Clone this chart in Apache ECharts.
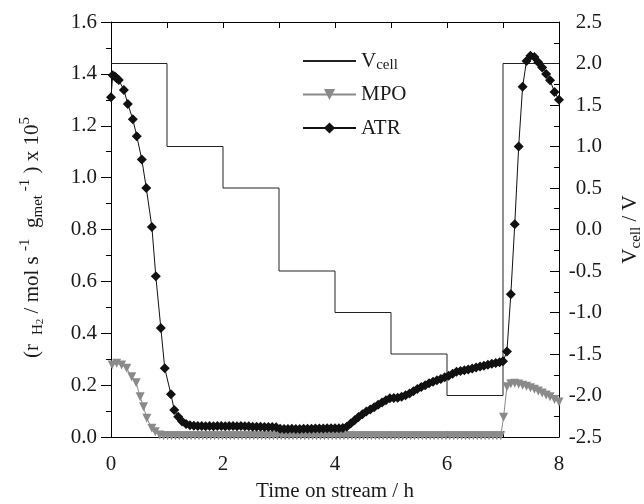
<!DOCTYPE html>
<html><head><meta charset="utf-8">
<script src="https://cdn.jsdelivr.net/npm/echarts@6/dist/echarts.min.js"></script>
<style>html,body{margin:0;padding:0;background:#fff}#c{width:644px;height:504px}</style>
</head><body><div id="c"></div>
<script>
// Cell voltage steps (right axis), V
const vcellTime = [0, 1, 2, 3, 4, 5, 6, 7, 8];
const vcellVolt = [2.0, 1.0, 0.5, -0.5, -1.0, -1.5, -2.0, 2.0, 2.0];

// ATR: [time h, rate x1e5]
const atrPoints = [
  [0.00,1.31],[0.03,1.395],[0.07,1.39],[0.10,1.383],[0.14,1.376],[0.23,1.338],[0.30,1.284],
  [0.39,1.225],[0.46,1.16],[0.55,1.07],[0.63,0.96],[0.73,0.81],[0.80,0.62],[0.89,0.42],
  [0.96,0.265],[1.07,0.165],[1.13,0.104],[1.20,0.078],[1.27,0.060],[1.34,0.050],[1.41,0.045],
  [1.48,0.043],[1.55,0.042],[1.62,0.042],[1.69,0.041],[1.76,0.042],[1.83,0.041],[1.90,0.042],
  [1.97,0.042],[2.04,0.041],[2.11,0.042],[2.18,0.042],[2.25,0.041],[2.32,0.042],[2.39,0.041],
  [2.46,0.041],[2.53,0.040],[2.60,0.040],[2.67,0.040],[2.74,0.039],[2.81,0.039],[2.88,0.039],
  [2.95,0.038],[3.02,0.032],[3.09,0.031],[3.16,0.031],[3.23,0.032],[3.30,0.031],[3.37,0.031],
  [3.44,0.032],[3.51,0.032],[3.58,0.032],[3.65,0.033],[3.72,0.033],[3.79,0.033],[3.86,0.034],
  [3.93,0.034],[4.00,0.034],[4.07,0.034],[4.14,0.035],[4.21,0.040],[4.28,0.052],[4.35,0.065],
  [4.42,0.077],[4.49,0.088],[4.56,0.098],[4.63,0.106],[4.70,0.115],[4.77,0.124],[4.84,0.133],
  [4.91,0.142],[4.98,0.149],[5.05,0.150],[5.12,0.151],[5.19,0.155],[5.26,0.161],[5.33,0.168],
  [5.40,0.176],[5.47,0.185],[5.54,0.193],[5.61,0.200],[5.68,0.207],[5.75,0.213],[5.82,0.219],
  [5.89,0.224],[5.96,0.230],[6.03,0.236],[6.10,0.244],[6.17,0.252],[6.24,0.254],[6.31,0.257],
  [6.38,0.260],[6.45,0.264],[6.52,0.268],[6.59,0.272],[6.66,0.275],[6.73,0.279],[6.80,0.282],
  [6.87,0.285],[6.94,0.288],[7.00,0.292],[7.07,0.33],[7.14,0.55],[7.21,0.82],[7.28,1.12],
  [7.35,1.35],[7.42,1.45],[7.49,1.47],[7.56,1.465],[7.63,1.445],[7.70,1.425],[7.77,1.40],
  [7.84,1.375],[7.92,1.33],[8.00,1.30]
];

// MPO: [time h, rate x1e5]
const mpoPoints = [
  [0.02,0.278],[0.10,0.284],[0.19,0.278],[0.28,0.265],[0.37,0.232],[0.45,0.209],[0.52,0.155],
  [0.58,0.117],[0.64,0.072],[0.73,0.034],[0.79,0.020],[0.87,0.008],
  [0.94,0.005],[1.01,0.005],[1.08,0.005],[1.15,0.005],[1.22,0.005],[1.29,0.005],[1.36,0.005],
  [1.43,0.005],[1.50,0.005],[1.57,0.005],[1.64,0.005],[1.71,0.005],[1.78,0.005],[1.85,0.005],
  [1.92,0.005],[1.99,0.005],[2.06,0.005],[2.13,0.005],[2.20,0.005],[2.27,0.005],[2.34,0.005],
  [2.41,0.005],[2.48,0.005],[2.55,0.005],[2.62,0.005],[2.69,0.005],[2.76,0.005],[2.83,0.005],
  [2.90,0.005],[2.97,0.005],[3.04,0.005],[3.11,0.005],[3.18,0.005],[3.25,0.005],[3.32,0.005],
  [3.39,0.005],[3.46,0.005],[3.53,0.005],[3.60,0.005],[3.67,0.005],[3.74,0.005],[3.81,0.005],
  [3.88,0.005],[3.95,0.005],[4.02,0.005],[4.09,0.005],[4.16,0.005],[4.23,0.005],[4.30,0.005],
  [4.37,0.005],[4.44,0.005],[4.51,0.005],[4.58,0.005],[4.65,0.005],[4.72,0.005],[4.79,0.005],
  [4.86,0.005],[4.93,0.005],[5.00,0.005],[5.07,0.005],[5.14,0.005],[5.21,0.005],[5.28,0.005],
  [5.35,0.005],[5.42,0.005],[5.49,0.005],[5.56,0.005],[5.63,0.005],[5.70,0.005],[5.77,0.005],
  [5.84,0.005],[5.91,0.005],[5.98,0.005],[6.05,0.005],[6.12,0.005],[6.19,0.005],[6.26,0.005],
  [6.33,0.005],[6.40,0.005],[6.47,0.005],[6.54,0.005],[6.61,0.005],[6.68,0.005],[6.75,0.005],
  [6.82,0.005],[6.89,0.005],[6.96,0.005],
  [7.01,0.076],[7.07,0.194],[7.14,0.205],[7.21,0.207],[7.28,0.204],[7.35,0.200],[7.42,0.196],
  [7.49,0.190],[7.56,0.184],[7.63,0.177],[7.70,0.170],[7.77,0.162],[7.84,0.155],[7.92,0.145],
  [8.00,0.135]
];

const FONT = '"Liberation Serif", "Times New Roman", serif';
const TXT = '#1a1a1a';
const richSS = {
  sup: {fontFamily: FONT, fontSize: 15, lineHeight: 13, verticalAlign: 'top', color: TXT},
  sub: {fontFamily: FONT, fontSize: 15, lineHeight: 13, verticalAlign: 'bottom', color: TXT},
  sub2: {fontFamily: FONT, fontSize: 11, lineHeight: 6, verticalAlign: 'bottom', color: TXT}
};

const chart = echarts.init(document.getElementById('c'), null, {renderer: 'canvas'});
chart.setOption({
  animation: false,
  backgroundColor: '#fff',
  grid: {left: 111, right: 85, top: 22, bottom: 67, outerBoundsMode: 'none', containLabel: false},
  legend: {
    orient: 'vertical', left: 302, top: 49, padding: 0,
    itemWidth: 53, itemHeight: 14, itemGap: 9.5,
    data: [{name: 'Vcell', itemStyle: {opacity: 0}}, 'MPO', 'ATR'],
    formatter: n => n === 'Vcell' ? 'V{sub|cell}' : n,
    textStyle: {fontFamily: FONT, fontSize: 21, color: TXT, lineHeight: 24, rich: richSS}
  },
  xAxis: [{
    type: 'value', min: 0, max: 8, interval: 1,
    name: 'Time on stream / h', nameLocation: 'middle', nameGap: 44,
    nameTextStyle: {fontFamily: FONT, fontSize: 21, color: TXT},
    axisLine: {onZero: false, lineStyle: {color: '#000', width: 1}},
    axisTick: {inside: true, length: 6, lineStyle: {color: '#000'}},
    axisLabel: {fontFamily: FONT, fontSize: 21, color: TXT, margin: 17,
      formatter: v => (Math.round(v) % 2 === 0 ? String(v) : '')},
    splitLine: {show: false}
  }, {
    type: 'value', min: 0, max: 8, interval: 1, position: 'top',
    axisLine: {onZero: false, lineStyle: {color: '#000', width: 1}},
    axisTick: {inside: true, length: 6, lineStyle: {color: '#000'}},
    axisLabel: {show: false}, splitLine: {show: false}
  }],
  yAxis: [{
    type: 'value', min: 0, max: 1.6, interval: 0.2, position: 'left',
    name: '(r {sub| H}{sub2|2} / mol s {sup|-1}  g{sub|met}{sup| -1} ) x 10{sup|5}',
    nameLocation: 'middle', nameRotate: 90, nameGap: 65,
    nameTextStyle: {fontFamily: FONT, fontSize: 21, color: TXT, lineHeight: 28, rich: richSS,
      padding: [0, 16, 0, 0]},
    axisLine: {show: true, onZero: false, lineStyle: {color: '#000', width: 1}},
    axisTick: {inside: false, length: 10, lineStyle: {color: '#000'}},
    minorTick: {show: true, splitNumber: 2, length: 5, lineStyle: {color: '#000'}},
    axisLabel: {fontFamily: FONT, fontSize: 21, color: TXT, margin: 14, formatter: v => v.toFixed(1)},
    splitLine: {show: false}, minorSplitLine: {show: false}
  }, {
    type: 'value', min: -2.5, max: 2.5, interval: 0.5, position: 'right',
    name: 'V{sub|cell} / V',
    nameLocation: 'middle', nameRotate: 90, nameGap: 57,
    nameTextStyle: {fontFamily: FONT, fontSize: 21, color: TXT, lineHeight: 28, rich: richSS},
    axisLine: {show: true, onZero: false, lineStyle: {color: '#000', width: 1}},
    axisTick: {inside: true, length: 9, lineStyle: {color: '#000'}},
    minorTick: {show: true, splitNumber: 2, length: 5, lineStyle: {color: '#000'}},
    axisLabel: {fontFamily: FONT, fontSize: 21, color: TXT, margin: 43, align: 'right',
      formatter: v => v.toFixed(1)},
    splitLine: {show: false}, minorSplitLine: {show: false}
  }],
  series: [{
    name: 'Vcell', type: 'line', yAxisIndex: 1, step: 'end', symbol: 'none',
    data: vcellTime.map((t, i) => [t, vcellVolt[i]]),
    lineStyle: {color: '#222', width: 1}, itemStyle: {color: '#222'}, z: 1
  }, {
    name: 'MPO', type: 'line', yAxisIndex: 0, symbol: 'triangle', symbolRotate: 180, symbolSize: 9,
    data: mpoPoints,
    lineStyle: {color: '#8a8a8a', width: 1}, itemStyle: {color: '#8a8a8a'}, z: 2
  }, {
    name: 'ATR', type: 'line', yAxisIndex: 0, symbol: 'diamond', symbolSize: 10,
    data: atrPoints,
    lineStyle: {color: '#111', width: 1}, itemStyle: {color: '#111'}, z: 3
  }]
});
</script>
</body></html>
